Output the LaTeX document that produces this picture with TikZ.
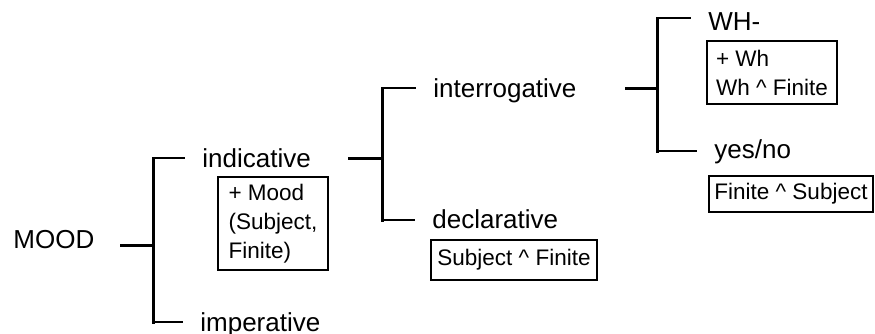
\documentclass[tikz,border=0pt]{standalone}
\usepackage{fontspec}
\setmainfont{Liberation Sans}
\usepackage{tikz}

\begin{document}
\begin{tikzpicture}[x=0.5pt, y=-0.5pt,
  term/.style={anchor=base west, inner sep=0pt, text height=9.5pt, text depth=0pt, font=\fontsize{13}{15}\selectfont},
  feat/.style={draw, line width=0.8pt, align=left, inner sep=0pt, font=\fontsize{11.25}{14.5}\selectfont},
  trunk/.style={line width=1.5pt},
  bar/.style={line width=1.5pt, line cap=rect},
  twig/.style={line width=1pt, shorten >=8.5pt}]
\useasboundingbox (0,0) rectangle (875,333);

% first choice: MOOD
\node (mood) [term] at (13,248) {MOOD};
\node (indicative) [term] at (202,167) {indicative};
\node (imperative) [term] at (200,331) {imperative};
\node (indbox) [feat, minimum width=55pt, minimum height=46.5pt] at (273,223.5) {+ Mood\\(Subject,\\Finite)};

\coordinate (mood-s) at (120,245);
\coordinate (mood-j) at (153,245);
\coordinate (mood-t) at (153,158);
\coordinate (mood-b) at (153,322);
\draw[trunk] (mood-s) -- (mood-j);
\draw[bar] (mood-t) -- (mood-b);
\draw[twig] (mood-t) -- (mood-t -| indicative.west);
\draw[twig] (mood-b) -- (mood-b -| imperative.west);

% second choice: indicative
\node (interrogative) [term] at (433,97) {interrogative};
\node (declarative) [term] at (432,228) {declarative};
\node (declbox) [feat, minimum width=83pt, minimum height=20pt] at (514,260) {Subject \textasciicircum\ Finite};

\coordinate (ind-s) at (348,158);
\coordinate (ind-j) at (382,158);
\coordinate (ind-t) at (382,88);
\coordinate (ind-b) at (382,220);
\draw[trunk] (ind-s) -- (ind-j);
\draw[bar] (ind-t) -- (ind-b);
\draw[twig] (ind-t) -- (ind-t -| interrogative.west);
\draw[twig] (ind-b) -- (ind-b -| declarative.west);

% third choice: interrogative
\node (wh) [term] at (708,30) {WH-};
\node (yesno) [term] at (714,158) {yes/no};
\node (whbox) [feat, minimum width=65pt, minimum height=31.5pt] at (772,72.5) {+ Wh\\Wh \textasciicircum\ Finite};
\node (ynbox) [feat, minimum width=82pt, minimum height=18pt] at (791,194) {Finite \textasciicircum\ Subject};

\coordinate (int-s) at (625,88);
\coordinate (int-j) at (657,88);
\coordinate (int-t) at (657,18);
\coordinate (int-b) at (657,151);
\draw[trunk] (int-s) -- (int-j);
\draw[bar] (int-t) -- (int-b);
\draw[twig] (int-t) -- (int-t -| wh.west);
\draw[twig] (int-b) -- (int-b -| yesno.west);
\end{tikzpicture}
\end{document}
